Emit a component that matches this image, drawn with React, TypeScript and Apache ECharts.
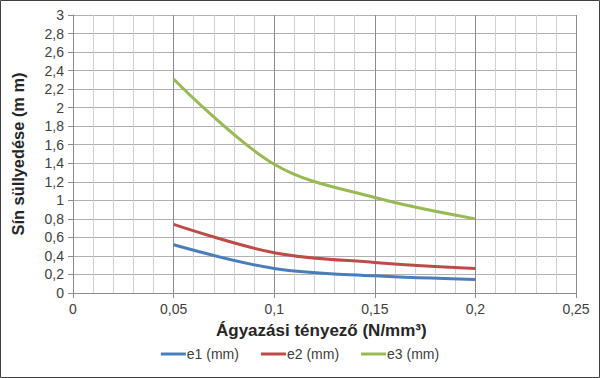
import React, { useEffect, useRef } from "react";
import * as echarts from "echarts";

const xValues = [0.05, 0.1, 0.15, 0.2];
const e1 = [0.52, 0.265, 0.185, 0.145];
const e2 = [0.74, 0.435, 0.33, 0.265];
const e3 = [2.31, 1.39, 1.03, 0.8];
const seriesNames = ["e1 (mm)", "e2 (mm)", "e3 (mm)"];
const colors = ["#4A7EBB", "#BE4B48", "#98B954"];
const xTitle = "Ágyazási tényező (N/mm³)";
const yTitle = "Sín süllyedése (m m)";

const FONT = "'Liberation Sans', Arial, sans-serif";
const fmt = (v: number) => String(+v.toFixed(2)).replace(".", ",");

export default function App() {
  const ref = useRef<HTMLDivElement>(null);
  useEffect(() => {
    if (!ref.current) return;
    const chart = echarts.init(ref.current, undefined, { renderer: "svg" });
    const data = [e1, e2, e3];
    chart.setOption({
      animation: false,
      backgroundColor: "#ffffff",
      textStyle: { fontFamily: FONT },
      grid: { left: 73, right: 24, top: 15, bottom: 85, containLabel: false },
      xAxis: {
        type: "value",
        min: 0,
        max: 0.25,
        interval: 0.05,
        axisLine: { show: true, lineStyle: { color: "#8c8c8c", width: 1 } },
        axisTick: { show: true, length: 5, lineStyle: { color: "#8c8c8c" } },
        axisLabel: {
          formatter: (v: number) => fmt(v),
          color: "#404040",
          fontSize: 14,
          fontFamily: FONT,
          margin: 9,
        },
        splitLine: { show: true, lineStyle: { color: "#8c8c8c", width: 1 } },
        minorTick: { show: false, splitNumber: 5 },
        minorSplitLine: { show: true, lineStyle: { color: "#d0d0d0", width: 1 } },
      },
      yAxis: {
        type: "value",
        min: 0,
        max: 3,
        interval: 0.2,
        axisLine: { show: true, lineStyle: { color: "#8c8c8c", width: 1 } },
        axisTick: { show: true, length: 5, lineStyle: { color: "#8c8c8c" } },
        axisLabel: {
          formatter: (v: number) => fmt(v),
          color: "#404040",
          fontSize: 14,
          fontFamily: FONT,
          margin: 9,
        },
        splitLine: { show: true, lineStyle: { color: "#b0b0b0", width: 1 } },
      },
      legend: {
        data: seriesNames,
        bottom: 12,
        left: "center",
        icon: "rect",
        itemWidth: 25,
        itemHeight: 3,
        itemGap: 22,
        textStyle: {
          color: "#404040",
          fontSize: 14,
          fontFamily: FONT,
          padding: [0, 0, 0, -4],
        },
      },
      graphic: [
        {
          type: "text",
          left: 216,
          top: 322,
          style: {
            text: xTitle,
            fontFamily: FONT,
            fontWeight: "bold",
            fontSize: 17,
            fill: "#262626",
          },
        },
        {
          type: "text",
          x: 18,
          y: 154,
          rotation: Math.PI / 2,
          style: {
            text: yTitle,
            fontFamily: FONT,
            fontWeight: "bold",
            fontSize: 16.4,
            fill: "#262626",
            align: "center",
            verticalAlign: "middle",
          },
        },
        {
          type: "rect",
          shape: { x: 0.5, y: 0.5, width: 599, height: 377 },
          style: { fill: "none", stroke: "#404040", lineWidth: 1 },
          silent: true,
        },
      ],
      series: data.map((d, i) => ({
        name: seriesNames[i],
        type: "line",
        smooth: 0.35,
        showSymbol: false,
        symbol: "none",
        color: colors[i],
        lineStyle: { width: 3, color: colors[i] },
        data: xValues.map((x, j) => [x, d[j]]),
      })),
    });
    return () => chart.dispose();
  }, []);
  return (
    <div
      ref={ref}
      style={{ position: "fixed", left: 0, top: 0, width: 600, height: 378 }}
    />
  );
}
